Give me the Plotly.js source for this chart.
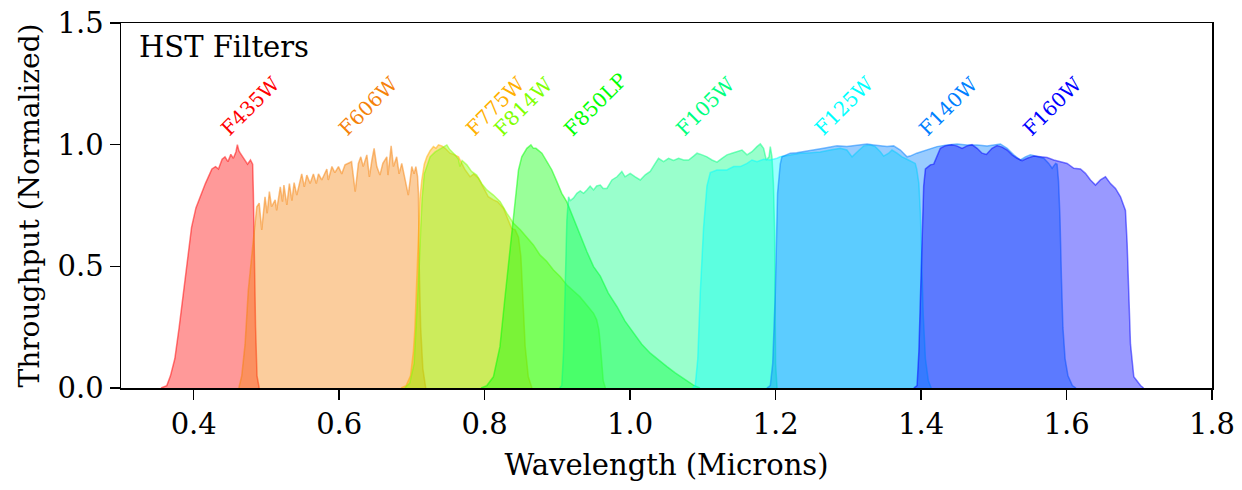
<!DOCTYPE html>
<html>
<head>
<meta charset="utf-8">
<script src="https://cdn.plot.ly/plotly-3.0.1.min.js"></script>
<style>
html,body{margin:0;padding:0;background:#fff;}
#chart{width:1242px;height:490px;}
</style>
</head>
<body>
<div id="chart"></div>
<script>
// ---- Data: [wavelength (microns), normalized throughput] ----
const F435W = [[0.355,0],[0.363,0.01],[0.368,0.05],[0.374,0.12],[0.380,0.25],[0.386,0.39],[0.392,0.53],[0.397,0.66],[0.403,0.74],[0.409,0.79],[0.416,0.84],[0.422,0.88],[0.425,0.90],[0.430,0.91],[0.434,0.90],[0.439,0.94],[0.443,0.95],[0.447,0.93],[0.451,0.96],[0.4545,0.944],[0.458,0.97],[0.460,1.0],[0.462,0.975],[0.464,0.965],[0.467,0.95],[0.471,0.93],[0.474,0.92],[0.478,0.937],[0.481,0.92],[0.482,0.80],[0.483,0.53],[0.485,0.25],[0.487,0.05],[0.490,0]];

const F606W = [[0.462,0],[0.466,0.05],[0.4706,0.18],[0.475,0.40],[0.479,0.52],[0.482,0.62],[0.4867,0.745],[0.490,0.76],[0.4935,0.65],[0.498,0.786],[0.501,0.718],[0.504,0.807],[0.507,0.745],[0.512,0.773],[0.514,0.73],[0.519,0.827],[0.522,0.766],[0.524,0.834],[0.528,0.752],[0.5315,0.84],[0.535,0.77],[0.538,0.844],[0.5417,0.793],[0.5485,0.88],[0.552,0.827],[0.5555,0.875],[0.56,0.84],[0.5645,0.88],[0.5685,0.84],[0.5715,0.88],[0.576,0.855],[0.583,0.90],[0.585,0.855],[0.59,0.91],[0.594,0.885],[0.599,0.91],[0.6035,0.88],[0.608,0.917],[0.6127,0.923],[0.617,0.93],[0.622,0.807],[0.6264,0.923],[0.6297,0.95],[0.633,0.91],[0.638,0.958],[0.6415,0.868],[0.645,0.937],[0.648,0.985],[0.6517,0.91],[0.656,0.875],[0.66,0.923],[0.6655,0.95],[0.667,0.875],[0.6714,0.995],[0.6746,0.91],[0.679,0.95],[0.6824,0.88],[0.686,0.923],[0.689,0.88],[0.695,0.793],[0.6998,0.91],[0.703,0.88],[0.7054,0.91],[0.7077,0.87],[0.709,0.80],[0.710,0.5],[0.712,0.25],[0.715,0.08],[0.719,0]];

const F775W = [[0.685,0],[0.692,0.01],[0.698,0.05],[0.702,0.15],[0.704,0.24],[0.707,0.45],[0.709,0.65],[0.711,0.78],[0.7136,0.855],[0.717,0.92],[0.7205,0.95],[0.725,0.975],[0.7296,0.992],[0.733,0.985],[0.7365,0.999],[0.741,0.995],[0.7457,0.985],[0.7525,0.965],[0.757,0.96],[0.764,0.95],[0.7686,0.923],[0.773,0.897],[0.78,0.868],[0.785,0.88],[0.7915,0.862],[0.798,0.827],[0.805,0.786],[0.812,0.773],[0.818,0.765],[0.826,0.738],[0.8306,0.704],[0.837,0.656],[0.842,0.65],[0.8465,0.62],[0.8498,0.54],[0.8525,0.375],[0.8557,0.17],[0.860,0.046],[0.865,0]];

const F814W = [[0.690,0],[0.697,0.02],[0.703,0.1],[0.707,0.3],[0.710,0.5],[0.712,0.65],[0.714,0.78],[0.717,0.88],[0.725,0.95],[0.732,0.97],[0.741,0.985],[0.748,0.999],[0.752,0.98],[0.7594,0.958],[0.764,0.94],[0.766,0.91],[0.769,0.935],[0.7755,0.917],[0.782,0.89],[0.789,0.875],[0.796,0.84],[0.803,0.814],[0.812,0.793],[0.8213,0.766],[0.8306,0.718],[0.8396,0.677],[0.849,0.65],[0.858,0.62],[0.867,0.588],[0.876,0.547],[0.8855,0.52],[0.8946,0.485],[0.904,0.457],[0.913,0.423],[0.922,0.40],[0.931,0.375],[0.9406,0.34],[0.9497,0.307],[0.954,0.28],[0.957,0.24],[0.959,0.18],[0.961,0.10],[0.963,0.03],[0.966,0]];

const F850LP = [[0.795,0],[0.803,0.01],[0.812,0.046],[0.821,0.17],[0.828,0.375],[0.835,0.58],[0.842,0.786],[0.8465,0.896],[0.851,0.95],[0.858,0.985],[0.8636,0.999],[0.867,0.985],[0.8705,0.985],[0.8787,0.965],[0.8856,0.93],[0.8924,0.896],[0.8993,0.848],[0.906,0.80],[0.913,0.765],[0.92,0.711],[0.9268,0.663],[0.9337,0.608],[0.9406,0.56],[0.9497,0.499],[0.959,0.46],[0.970,0.39],[0.982,0.334],[0.993,0.275],[1.0047,0.225],[1.016,0.18],[1.0277,0.143],[1.04,0.112],[1.0506,0.088],[1.062,0.062],[1.0734,0.04],[1.087,0.012],[1.096,0]];

const F105W = [[0.903,0],[0.906,0.01],[0.9085,0.15],[0.9107,0.39],[0.913,0.69],[0.9153,0.786],[0.9176,0.77],[0.922,0.78],[0.9268,0.80],[0.9314,0.81],[0.936,0.80],[0.9405,0.814],[0.945,0.83],[0.9497,0.814],[0.954,0.83],[0.959,0.834],[0.963,0.82],[0.968,0.82],[0.975,0.855],[0.982,0.868],[0.9886,0.89],[0.993,0.868],[1.0001,0.882],[1.007,0.868],[1.0139,0.855],[1.0208,0.876],[1.0276,0.89],[1.0345,0.923],[1.039,0.944],[1.046,0.93],[1.0528,0.944],[1.0597,0.935],[1.0666,0.944],[1.0735,0.937],[1.0804,0.937],[1.0872,0.953],[1.092,0.965],[1.099,0.958],[1.1056,0.95],[1.1125,0.937],[1.1194,0.928],[1.1263,0.944],[1.1331,0.958],[1.14,0.965],[1.1469,0.971],[1.1538,0.978],[1.1607,0.958],[1.1675,0.971],[1.1744,0.992],[1.179,1.003],[1.1835,0.985],[1.1872,0.937],[1.191,0.95],[1.1927,0.992],[1.195,0.95],[1.197,0.84],[1.1986,0.65],[1.199,0.3],[1.200,0.1],[1.202,0]];

const F125W = [[1.086,0],[1.0895,0.01],[1.093,0.12],[1.0964,0.39],[1.101,0.66],[1.1056,0.83],[1.1102,0.885],[1.1194,0.896],[1.133,0.896],[1.1423,0.91],[1.1515,0.91],[1.1607,0.923],[1.1675,0.937],[1.1744,0.93],[1.1835,0.94],[1.1927,0.937],[1.2019,0.944],[1.2064,0.95],[1.2202,0.958],[1.2339,0.965],[1.2477,0.967],[1.2614,0.97],[1.2753,0.978],[1.289,0.985],[1.298,0.978],[1.3051,0.95],[1.312,0.97],[1.3211,0.995],[1.33,0.999],[1.337,0.992],[1.344,0.971],[1.3486,0.953],[1.3555,0.965],[1.36,0.978],[1.367,0.965],[1.3738,0.95],[1.3807,0.94],[1.3875,0.93],[1.392,0.923],[1.394,0.90],[1.397,0.84],[1.399,0.72],[1.401,0.5],[1.403,0.3],[1.406,0.12],[1.41,0.03],[1.414,0]];

const F140W = [[1.188,0],[1.1927,0.01],[1.196,0.1],[1.1996,0.39],[1.2027,0.80],[1.2064,0.92],[1.2087,0.95],[1.2202,0.965],[1.229,0.967],[1.2385,0.971],[1.252,0.978],[1.266,0.985],[1.2753,0.99],[1.2845,0.995],[1.298,0.992],[1.3074,0.995],[1.3165,0.999],[1.3257,1.003],[1.3349,0.999],[1.344,0.995],[1.3532,0.992],[1.3623,0.995],[1.3715,0.978],[1.3807,0.95],[1.385,0.953],[1.394,0.965],[1.4036,0.975],[1.4128,0.985],[1.422,0.992],[1.4357,0.999],[1.4495,1.003],[1.463,0.999],[1.477,0.999],[1.4908,0.995],[1.5,0.999],[1.509,1.003],[1.5183,0.985],[1.5274,0.958],[1.5366,0.937],[1.5435,0.95],[1.5503,0.958],[1.5595,0.95],[1.5687,0.944],[1.5755,0.923],[1.5802,0.903],[1.585,0.923],[1.587,0.92],[1.589,0.85],[1.591,0.7],[1.593,0.45],[1.595,0.25],[1.598,0.12],[1.602,0.05],[1.608,0.01],[1.613,0]];

const F160W = [[1.390,0],[1.3945,0.01],[1.397,0.15],[1.399,0.39],[1.4014,0.66],[1.4036,0.83],[1.406,0.90],[1.4128,0.917],[1.4174,0.92],[1.422,0.95],[1.4265,0.985],[1.433,0.995],[1.442,1.0],[1.449,0.995],[1.4564,0.985],[1.4633,0.995],[1.47,1.0],[1.477,0.985],[1.4839,0.965],[1.4898,0.96],[1.4976,0.985],[1.5045,0.996],[1.5114,0.99],[1.5183,0.978],[1.5252,0.958],[1.532,0.944],[1.5389,0.934],[1.5458,0.944],[1.555,0.953],[1.5641,0.95],[1.5733,0.947],[1.5824,0.937],[1.5916,0.93],[1.6008,0.923],[1.61,0.903],[1.6191,0.9],[1.626,0.882],[1.6329,0.855],[1.6398,0.834],[1.6466,0.855],[1.6535,0.868],[1.6604,0.84],[1.6673,0.82],[1.6742,0.786],[1.681,0.73],[1.6833,0.595],[1.6856,0.39],[1.6879,0.18],[1.6925,0.046],[1.7017,0.01],[1.706,0]];

const filterNames = ["F435W","F606W","F775W","F814W","F850LP","F105W","F125W","F140W","F160W"];
const labelWave = [0.436, 0.598, 0.773, 0.812, 0.908, 1.062, 1.252, 1.396, 1.539];
const xTicks = [0.4, 0.6, 0.8, 1.0, 1.2, 1.4, 1.6, 1.8];
const yTicks = [0.0, 0.5, 1.0, 1.5];

// ---- Styles ----
const curves = [F435W, F606W, F775W, F814W, F850LP, F105W, F125W, F140W, F160W];
const rgb = [[255,0,0],[245,130,10],[255,176,0],[128,255,0],[0,255,0],[0,255,128],[0,255,255],[0,128,255],[0,0,255]];
const FONT = "DejaVu Serif";
const LABEL_Y = 1.005;
const LABEL_DX = -0.009;

const traces = curves.map((c, i) => {
  const col = rgb[i].join(',');
  return {
    x: c.map(p => p[0]),
    y: c.map(p => p[1]),
    type: 'scatter',
    mode: 'lines',
    fill: 'tozeroy',
    fillcolor: 'rgba(' + col + ',0.4)',
    line: {color: 'rgba(' + col + ',0.5)', width: 1.5},
    hoverinfo: 'skip',
    showlegend: false,
    name: filterNames[i]
  };
});

const annotations = filterNames.map((n, i) => ({
  x: labelWave[i] + LABEL_DX, y: LABEL_Y, xref: 'x', yref: 'y',
  text: n, showarrow: false, textangle: -45,
  xanchor: 'left', yanchor: 'bottom',
  font: {family: FONT, size: 20, color: 'rgb(' + rgb[i].join(',') + ')'}
}));
annotations.push({
  x: 0.015, y: 0.985, xref: 'paper', yref: 'paper',
  text: 'HST Filters', showarrow: false,
  xanchor: 'left', yanchor: 'top',
  font: {family: FONT, size: 29, color: '#000'}
});

const layout = {
  width: 1242, height: 490,
  margin: {l: 121, r: 30, t: 23, b: 102},
  paper_bgcolor: '#fff', plot_bgcolor: '#fff',
  font: {family: FONT, color: '#000'},
  xaxis: {
    range: [0.3, 1.8], tickvals: xTicks, ticktext: xTicks.map(v => v.toFixed(1)),
    showgrid: false, zeroline: false, showline: true, mirror: true,
    linecolor: '#000', linewidth: 1.5, ticks: 'outside', ticklen: 10, tickwidth: 1.5,
    tickcolor: '#000', tickfont: {family: FONT, size: 29},
    title: {text: 'Wavelength (Microns)', font: {family: FONT, size: 29}, standoff: 14}
  },
  yaxis: {
    range: [0, 1.5], tickvals: yTicks, ticktext: yTicks.map(v => v.toFixed(1)),
    showgrid: false, zeroline: false, showline: true, mirror: true,
    linecolor: '#000', linewidth: 1.5, ticks: 'outside', ticklen: 10, tickwidth: 1.5,
    tickcolor: '#000', tickfont: {family: FONT, size: 29},
    title: {text: 'Throughput (Normalized)', font: {family: FONT, size: 28}, standoff: 10}
  },
  annotations: annotations,
  hovermode: false
};

Plotly.newPlot('chart', traces, layout, {staticPlot: true, displayModeBar: false});
</script>
</body>
</html>
